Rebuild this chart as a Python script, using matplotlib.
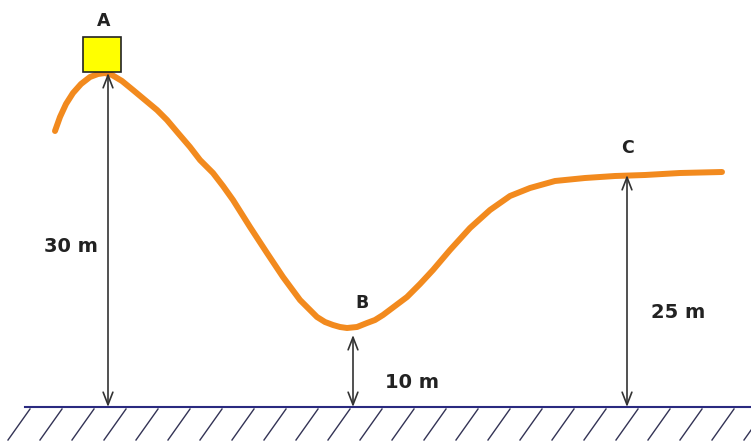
import numpy as np
import matplotlib.pyplot as plt

# track profile (picture coordinates, y grows downward)
track_x = [55, 60, 66, 73, 81, 90, 98, 105, 112, 122, 133, 145, 157, 167, 178, 190,
           200, 213, 223, 233, 250, 267, 283, 300, 310, 317, 325, 333, 340, 347, 357,
           367, 375, 383, 395, 407, 420, 433, 450, 470, 490, 510, 530, 555, 585, 615,
           645, 680, 722]
track_y = [131, 117, 104, 93, 84, 77, 74, 73, 75, 81, 90, 100, 110, 120, 133, 147,
           160, 173, 186, 200, 227, 253, 277, 300, 310, 317, 322, 325, 327, 328, 327,
           323, 320, 315, 306, 297, 284, 270, 250, 228, 210, 196, 188, 181, 178, 176,
           175, 173, 172]

# height markers: label, x, top of arrow, label position
points = ['A', 'B', 'C']
point_x = [108, 353, 627]
point_top = [73, 335, 175]
point_label_xy = [(104, 21), (362, 303), (627, 148)]

heights = ['30 m', '10 m', '25 m']
height_label_xy = [(71, 247), (412, 383), (678, 312)]

ground_y = 407

fig = plt.figure(figsize=(7.51, 4.46), dpi=100)
ax = fig.add_axes([0, 0, 1, 1])
ax.set_xlim(0, 751)
ax.set_ylim(446, 0)
ax.axis('off')

# ground + hatching
ax.plot([25, 751], [ground_y, ground_y], color='#2a2a80', lw=1.5)
for x0 in range(8, 751, 32):
    ax.plot([x0, x0 + 22], [ground_y + 33, ground_y + 2], color='#333355', lw=1.0)

# track
ax.plot(track_x, track_y, color='#f28a1e', lw=4.3, solid_capstyle='round',
        solid_joinstyle='round', zorder=3)

# block at A
ax.add_patch(plt.Rectangle((83, 37), 38, 35, facecolor='#ffff00',
                           edgecolor='#222222', lw=1.2, zorder=4))

# height arrows
for x, top in zip(point_x, point_top):
    ax.annotate('', xy=(x, top), xytext=(x, ground_y),
                arrowprops=dict(arrowstyle='<->,head_length=0.9,head_width=0.35',
                                color='#333333', lw=1.2, shrinkA=0, shrinkB=0),
                zorder=5)

for lab, (x, y) in zip(points, point_label_xy):
    ax.text(x, y, lab, fontsize=12.5, fontweight='bold', color='#222222',
            ha='center', va='center')

for lab, (x, y) in zip(heights, height_label_xy):
    ax.text(x, y, lab, fontsize=14, fontweight='bold', color='#222222',
            ha='center', va='center')

fig.savefig('out.png', dpi=100, facecolor='white')
